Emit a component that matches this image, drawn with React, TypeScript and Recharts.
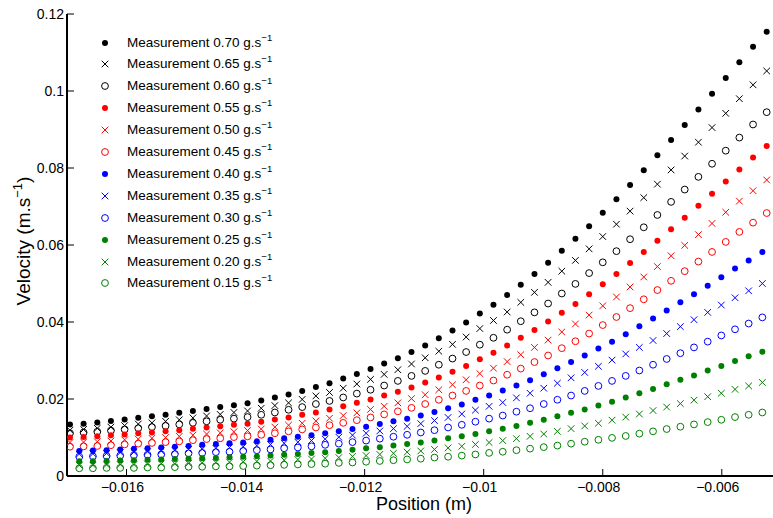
import { Scatter, ScatterChart, XAxis, YAxis } from "recharts";

const xTicks = [-0.016, -0.014, -0.012, -0.01, -0.008, -0.006];
const yTicks = [0, 0.02, 0.04, 0.06, 0.08, 0.1, 0.12];

// sample positions (m): black and red runs share one grid, blue and green another
const posA = [
	-0.01695, -0.016721, -0.016491, -0.016262, -0.016032, -0.015803, -0.015573,
	-0.015344, -0.015114, -0.014885, -0.014655, -0.014426, -0.014196, -0.013967,
	-0.013737, -0.013508, -0.013278, -0.013049, -0.012819, -0.01259, -0.01236,
	-0.012131, -0.011901, -0.011672, -0.011442, -0.011213, -0.010983, -0.010754,
	-0.010524, -0.010295, -0.010065, -0.009836, -0.009606, -0.009377, -0.009147,
	-0.008918, -0.008688, -0.008459, -0.008229, -0.008, -0.00777, -0.007541,
	-0.007311, -0.007082, -0.006852, -0.006623, -0.006393, -0.006164, -0.005934,
	-0.005705, -0.005475, -0.005246,
];
const posB = [
	-0.016794, -0.016565, -0.016335, -0.016106, -0.015876, -0.015647, -0.015417,
	-0.015188, -0.014958, -0.014729, -0.014499, -0.01427, -0.01404, -0.013811,
	-0.013581, -0.013352, -0.013122, -0.012893, -0.012663, -0.012434, -0.012204,
	-0.011975, -0.011745, -0.011516, -0.011286, -0.011057, -0.010827, -0.010598,
	-0.010368, -0.010139, -0.009909, -0.00968, -0.00945, -0.009221, -0.008991,
	-0.008762, -0.008532, -0.008303, -0.008073, -0.007844, -0.007614, -0.007385,
	-0.007155, -0.006926, -0.006696, -0.006467, -0.006237, -0.006008, -0.005778,
	-0.005549, -0.005319,
];

// velocities (m/s) per flow rate
const vel070 = [
	0.0134, 0.0136, 0.0139, 0.0143, 0.0147, 0.0151, 0.0155, 0.0159, 0.0164, 0.0169,
	0.0174, 0.0179, 0.0184, 0.0189, 0.0196, 0.0204, 0.0212, 0.0221, 0.0231, 0.0241,
	0.0253, 0.0265, 0.0278, 0.0292, 0.0306, 0.0322, 0.0339, 0.0358, 0.0378, 0.0399,
	0.0422, 0.0445, 0.047, 0.0497, 0.0525, 0.0554, 0.0585, 0.0616, 0.0649, 0.0684,
	0.0719, 0.0756, 0.0794, 0.0833, 0.0873, 0.0912, 0.0952, 0.0993, 0.1034, 0.1075,
	0.1115, 0.1154,
];
const vel065 = [
	0.0119, 0.0121, 0.0124, 0.0127, 0.0131, 0.0135, 0.0138, 0.0142, 0.0146, 0.0151,
	0.0156, 0.016, 0.0165, 0.0169, 0.0176, 0.0183, 0.019, 0.0199, 0.0208, 0.0217,
	0.0228, 0.0239, 0.0251, 0.0264, 0.0276, 0.0291, 0.0307, 0.0324, 0.0342, 0.0361,
	0.0383, 0.0404, 0.0426, 0.0451, 0.0477, 0.0503, 0.0532, 0.056, 0.059, 0.0622,
	0.0654, 0.0688, 0.0723, 0.0758, 0.0795, 0.0831, 0.0867, 0.0905, 0.0942, 0.098,
	0.1016, 0.1052,
];
const vel060 = [
	0.0111, 0.0113, 0.0115, 0.0118, 0.0121, 0.0124, 0.0127, 0.013, 0.0134, 0.0138,
	0.0142, 0.0146, 0.0149, 0.0153, 0.0159, 0.0165, 0.0172, 0.0179, 0.0187, 0.0195,
	0.0204, 0.0214, 0.0224, 0.0235, 0.0247, 0.026, 0.0273, 0.0289, 0.0305, 0.0322,
	0.0341, 0.0359, 0.038, 0.0402, 0.0425, 0.0448, 0.0474, 0.0499, 0.0527, 0.0555,
	0.0584, 0.0615, 0.0646, 0.0678, 0.0712, 0.0744, 0.0777, 0.0811, 0.0845, 0.0879,
	0.0913, 0.0945,
];
const vel055 = [
	0.01, 0.0101, 0.0103, 0.0106, 0.0108, 0.0111, 0.0113, 0.0116, 0.0119, 0.0123,
	0.0126, 0.0129, 0.0133, 0.0136, 0.0141, 0.0147, 0.0152, 0.0159, 0.0165, 0.0173,
	0.0181, 0.019, 0.0199, 0.0209, 0.0219, 0.023, 0.0243, 0.0256, 0.0271, 0.0286,
	0.0303, 0.032, 0.0339, 0.0359, 0.0379, 0.0401, 0.0424, 0.0447, 0.0472, 0.0498,
	0.0525, 0.0553, 0.0582, 0.0611, 0.0641, 0.0671, 0.0702, 0.0733, 0.0765, 0.0796,
	0.0827, 0.0857,
];
const vel050 = [
	0.0087, 0.0088, 0.0089, 0.0091, 0.0094, 0.0096, 0.0098, 0.01, 0.0103, 0.0106,
	0.0109, 0.0112, 0.0115, 0.0118, 0.0122, 0.0127, 0.0132, 0.0137, 0.0143, 0.015,
	0.0157, 0.0164, 0.0173, 0.0181, 0.019, 0.0201, 0.0211, 0.0224, 0.0237, 0.025,
	0.0266, 0.028, 0.0297, 0.0315, 0.0334, 0.0353, 0.0374, 0.0395, 0.0418, 0.0442,
	0.0465, 0.0491, 0.0517, 0.0544, 0.0572, 0.0599, 0.0627, 0.0656, 0.0685, 0.0714,
	0.0741, 0.0769,
];
const vel045 = [
	0.0076, 0.0077, 0.0078, 0.008, 0.0082, 0.0084, 0.0086, 0.0088, 0.009, 0.0093,
	0.0096, 0.0098, 0.0101, 0.0103, 0.0107, 0.0111, 0.0116, 0.0121, 0.0126, 0.0132,
	0.0138, 0.0145, 0.0152, 0.016, 0.0168, 0.0177, 0.0187, 0.0198, 0.0209, 0.0221,
	0.0235, 0.0248, 0.0263, 0.0279, 0.0296, 0.0313, 0.0332, 0.035, 0.037, 0.0392,
	0.0413, 0.0436, 0.0459, 0.0483, 0.0507, 0.0532, 0.0557, 0.0582, 0.0608, 0.0634,
	0.0658, 0.0683,
];
const vel040 = [
	0.0065, 0.0066, 0.0067, 0.0069, 0.0071, 0.0072, 0.0074, 0.0076, 0.0078, 0.0081,
	0.0083, 0.0085, 0.0087, 0.009, 0.0094, 0.0098, 0.0102, 0.0106, 0.0111, 0.0116,
	0.0122, 0.0128, 0.0135, 0.0142, 0.0149, 0.0157, 0.0166, 0.0176, 0.0186, 0.0198,
	0.0209, 0.0222, 0.0235, 0.0249, 0.0264, 0.028, 0.0296, 0.0313, 0.0331, 0.0349,
	0.0368, 0.0389, 0.0409, 0.043, 0.0451, 0.0472, 0.0494, 0.0516, 0.0539, 0.056,
	0.0582,
];
const vel035 = [
	0.0057, 0.0058, 0.0059, 0.0061, 0.0062, 0.0063, 0.0065, 0.0067, 0.0069, 0.007,
	0.0072, 0.0074, 0.0076, 0.0079, 0.0082, 0.0085, 0.0088, 0.0092, 0.0096, 0.0101,
	0.0106, 0.0111, 0.0117, 0.0123, 0.0129, 0.0136, 0.0144, 0.0152, 0.0161, 0.0171,
	0.0181, 0.0191, 0.0203, 0.0215, 0.0228, 0.0241, 0.0255, 0.0269, 0.0285, 0.0301,
	0.0317, 0.0334, 0.0352, 0.037, 0.0388, 0.0406, 0.0425, 0.0444, 0.0463, 0.0481,
	0.05,
];
const vel030 = [
	0.005, 0.0051, 0.0052, 0.0053, 0.0054, 0.0055, 0.0056, 0.0057, 0.0059, 0.006,
	0.0062, 0.0063, 0.0065, 0.0067, 0.0069, 0.0072, 0.0074, 0.0077, 0.0081, 0.0084,
	0.0088, 0.0092, 0.0097, 0.0102, 0.0107, 0.0113, 0.0119, 0.0126, 0.0133, 0.0141,
	0.0149, 0.0157, 0.0167, 0.0176, 0.0187, 0.0198, 0.0209, 0.0221, 0.0234, 0.0247,
	0.026, 0.0274, 0.0289, 0.0304, 0.0319, 0.0334, 0.0349, 0.0365, 0.0381, 0.0396,
	0.0412,
];
const vel025 = [
	0.0038, 0.0038, 0.0039, 0.004, 0.0041, 0.0042, 0.0043, 0.0044, 0.0045, 0.0046,
	0.0047, 0.0049, 0.005, 0.0051, 0.0053, 0.0055, 0.0057, 0.006, 0.0062, 0.0065,
	0.0068, 0.0072, 0.0075, 0.0079, 0.0083, 0.0087, 0.0092, 0.0098, 0.0103, 0.0109,
	0.0116, 0.0123, 0.013, 0.0138, 0.0146, 0.0155, 0.0164, 0.0173, 0.0183, 0.0193,
	0.0204, 0.0215, 0.0226, 0.0238, 0.025, 0.0261, 0.0274, 0.0286, 0.0299, 0.0311,
	0.0323,
];
const vel020 = [
	0.0028, 0.0028, 0.0029, 0.003, 0.003, 0.0031, 0.0032, 0.0032, 0.0033, 0.0034,
	0.0035, 0.0036, 0.0037, 0.0038, 0.0039, 0.0041, 0.0043, 0.0044, 0.0046, 0.0048,
	0.0051, 0.0053, 0.0056, 0.0059, 0.0062, 0.0065, 0.0069, 0.0073, 0.0077, 0.0082,
	0.0087, 0.0092, 0.0097, 0.0103, 0.0109, 0.0116, 0.0123, 0.013, 0.0137, 0.0145,
	0.0153, 0.0161, 0.017, 0.0179, 0.0188, 0.0197, 0.0206, 0.0215, 0.0225, 0.0234,
	0.0243,
];
const vel015 = [
	0.002, 0.002, 0.0021, 0.0021, 0.0021, 0.0022, 0.0022, 0.0023, 0.0024, 0.0024,
	0.0025, 0.0025, 0.0026, 0.0027, 0.0028, 0.0029, 0.003, 0.0031, 0.0032, 0.0034,
	0.0035, 0.0037, 0.0039, 0.0041, 0.0043, 0.0045, 0.0048, 0.005, 0.0053, 0.0056,
	0.006, 0.0063, 0.0067, 0.0071, 0.0075, 0.0079, 0.0084, 0.0089, 0.0094, 0.0099,
	0.0104, 0.011, 0.0116, 0.0122, 0.0128, 0.0134, 0.014, 0.0146, 0.0153, 0.0159,
	0.0165,
];

const flowRates = ["0.70", "0.65", "0.60", "0.55", "0.50", "0.45", "0.40", "0.35", "0.30", "0.25", "0.20", "0.15"];

const BLACK = "#000000";
const RED = "#ff0000";
const BLUE = "#0000ff";
const GREEN = "#008000";

const series = [
	{ rate: flowRates[0], xs: posA, ys: vel070, color: BLACK, mark: "dot" },
	{ rate: flowRates[1], xs: posA, ys: vel065, color: BLACK, mark: "x" },
	{ rate: flowRates[2], xs: posA, ys: vel060, color: BLACK, mark: "ring" },
	{ rate: flowRates[3], xs: posA, ys: vel055, color: RED, mark: "dot" },
	{ rate: flowRates[4], xs: posA, ys: vel050, color: RED, mark: "x" },
	{ rate: flowRates[5], xs: posA, ys: vel045, color: RED, mark: "ring" },
	{ rate: flowRates[6], xs: posB, ys: vel040, color: BLUE, mark: "dot" },
	{ rate: flowRates[7], xs: posB, ys: vel035, color: BLUE, mark: "x" },
	{ rate: flowRates[8], xs: posB, ys: vel030, color: BLUE, mark: "ring" },
	{ rate: flowRates[9], xs: posB, ys: vel025, color: GREEN, mark: "dot" },
	{ rate: flowRates[10], xs: posB, ys: vel020, color: GREEN, mark: "x" },
	{ rate: flowRates[11], xs: posB, ys: vel015, color: GREEN, mark: "ring" },
];

const FONT = '"Liberation Sans", Arial, Helvetica, sans-serif';
const PLOT_TOP = 14;
const PLOT_BOTTOM = 476;

function Mark(props: any) {
	const { cx, cy, mark, color } = props;
	if (cx == null || cy == null) return null;
	if (mark === "dot") return <circle cx={cx} cy={cy} r={3} fill={color} />;
	if (mark === "ring")
		return <circle cx={cx} cy={cy} r={3.4} fill="none" stroke={color} strokeWidth={1} />;
	const s = 3.3;
	return (
		<path
			d={`M${cx - s},${cy - s}L${cx + s},${cy + s}M${cx - s},${cy + s}L${cx + s},${cy - s}`}
			stroke={color}
			strokeWidth={1}
			fill="none"
		/>
	);
}

function BottomTick(props: any) {
	const { x, payload } = props;
	return (
		<g>
			<line x1={x} y1={PLOT_BOTTOM} x2={x} y2={PLOT_BOTTOM - 7} stroke="#000" strokeWidth={1} />
			<text x={x - 4} y={PLOT_BOTTOM + 16} textAnchor="middle" fontSize={14} fontFamily={FONT} fill="#000">
				{String(payload.value).replace("-", "\u2212")}
			</text>
		</g>
	);
}

function TopTick(props: any) {
	const { x } = props;
	return <line x1={x} y1={PLOT_TOP} x2={x} y2={PLOT_TOP + 7} stroke="#000" strokeWidth={1} />;
}

function LeftTick(props: any) {
	const { x, y, payload } = props;
	return (
		<g>
			<line x1={x} y1={y} x2={x + 7} y2={y} stroke="#000" strokeWidth={1} />
			<text x={x - 3} y={y + 5} textAnchor="end" fontSize={14} fontFamily={FONT} fill="#000">
				{String(payload.value)}
			</text>
		</g>
	);
}

function XTitle() {
	return (
		<text x={424} y={510} textAnchor="middle" fontSize={18} fontFamily={FONT} fill="#000">
			Position (m)
		</text>
	);
}

function YTitle() {
	return (
		<text
			transform="translate(29.5,241) rotate(-90)"
			textAnchor="middle"
			fontSize={19}
			fontFamily={FONT}
			fill="#000"
		>
			Velocity (m.s
			<tspan fontSize={13} dy={-8}>
				{"\u22121"}
			</tspan>
			<tspan dy={8}>)</tspan>
		</text>
	);
}

function LegendBox() {
	return (
		<div style={{ position: "absolute", left: 0, top: 0, pointerEvents: "none" }}>
			{series.map((s, k) => {
				const cy = 42.5 + k * 21.9;
				return (
					<div key={s.rate} style={{ position: "absolute", left: 0, top: cy - 11 }}>
						<svg
							width={14}
							height={14}
							style={{ position: "absolute", left: 98, top: 4 }}
						>
							<Mark cx={7} cy={7} mark={s.mark} color={s.color} />
						</svg>
						<div
							style={{
								position: "absolute",
								left: 127,
								top: 0,
								height: 22,
								lineHeight: "22px",
								whiteSpace: "nowrap",
								fontFamily: FONT,
								fontSize: 13.5,
								color: "#000",
							}}
						>
							Measurement {s.rate} g.s
							<span style={{ fontSize: 9.5, position: "relative", top: -6 }}>{"\u22121"}</span>
						</div>
					</div>
				);
			})}
		</div>
	);
}

export default function App() {
	return (
		<div style={{ position: "absolute", left: 0, top: 0, width: 773, height: 518, background: "#fff" }}>
			<ScatterChart width={773} height={518} margin={{ top: PLOT_TOP, right: 0, bottom: 0, left: 0 }}>
				<XAxis
					xAxisId="bottom"
					type="number"
					dataKey="x"
					domain={[-0.017, -0.00514]}
					allowDataOverflow
					ticks={xTicks}
					interval={0}
					height={518 - PLOT_BOTTOM}
					tickSize={0}
					tickMargin={0}
					tickLine={false}
					tick={<BottomTick />}
					axisLine={{ stroke: "#000", strokeWidth: 2 }}
					label={<XTitle />}
				/>
				<XAxis
					xAxisId="top"
					orientation="top"
					type="number"
					domain={[-0.017, -0.00514]}
					allowDataOverflow
					ticks={xTicks}
					interval={0}
					height={0}
					tickSize={0}
					tickMargin={0}
					tickLine={false}
					tick={<TopTick />}
					axisLine={{ stroke: "#000", strokeWidth: 1.5 }}
				/>
				<YAxis
					type="number"
					dataKey="y"
					domain={[0, 0.12]}
					allowDataOverflow
					ticks={yTicks}
					interval={0}
					width={67}
					tickSize={0}
					tickMargin={0}
					tickLine={false}
					tick={<LeftTick />}
					axisLine={{ stroke: "#000", strokeWidth: 2 }}
					label={<YTitle />}
				/>
				{series.map((s) => (
					<Scatter
						key={s.rate}
						xAxisId="bottom"
						name={`Measurement ${s.rate}`}
						data={s.xs.map((x, i) => ({ x, y: s.ys[i] }))}
						isAnimationActive={false}
						shape={(p: any) => <Mark cx={p.cx} cy={p.cy} mark={s.mark} color={s.color} />}
					/>
				))}
			</ScatterChart>
			<LegendBox />
		</div>
	);
}
